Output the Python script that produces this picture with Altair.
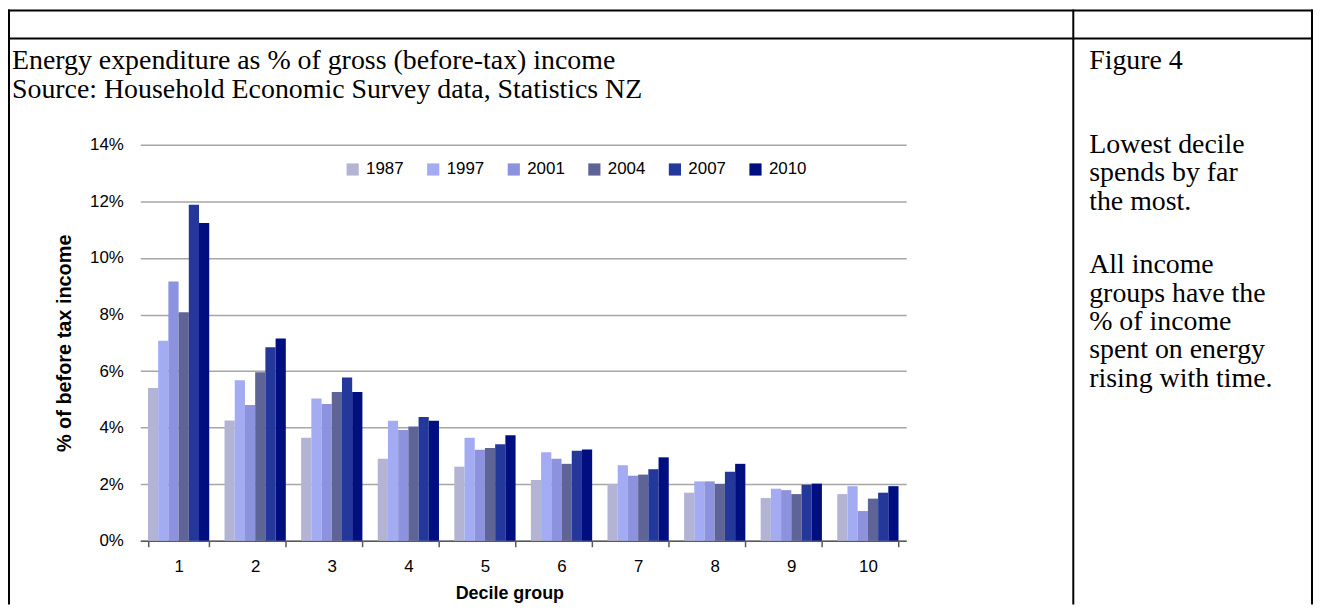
import altair as alt
import pandas as pd

# ---- data (percent of before-tax income) ----
deciles = ["1", "2", "3", "4", "5", "6", "7", "8", "9", "10"]
years = ["1987", "1997", "2001", "2004", "2007", "2010"]
v1987 = [5.40, 4.25, 3.64, 2.90, 2.62, 2.15, 2.01, 1.70, 1.51, 1.65]
v1997 = [7.07, 5.68, 5.03, 4.24, 3.64, 3.13, 2.67, 2.10, 1.84, 1.93]
v2001 = [9.17, 4.80, 4.84, 3.92, 3.22, 2.90, 2.30, 2.10, 1.79, 1.05]
v2004 = [8.08, 5.96, 5.26, 4.04, 3.28, 2.72, 2.34, 2.01, 1.65, 1.49]
v2007 = [11.88, 6.84, 5.77, 4.38, 3.41, 3.18, 2.53, 2.44, 1.98, 1.70]
v2010 = [11.24, 7.15, 5.26, 4.24, 3.73, 3.23, 2.95, 2.72, 2.02, 1.93]
y_ticks = [0, 2, 4, 6, 8, 10, 12, 14]
year_colors = ["#b3b4d4", "#a3abf3", "#8c92de", "#5f6496", "#23389a", "#000f80"]

title_lines = ["Energy expenditure as % of gross (before-tax) income",
               "Source: Household Economic Survey data, Statistics NZ"]
note_head = "Figure 4"
note_1 = ["Lowest decile", "spends by far", "the most."]
note_2 = ["All income", "groups have the", "% of income", "spent on energy", "rising with time."]

series = [v1987, v1997, v2001, v2004, v2007, v2010]
rows = []
for yr, vals in zip(years, series):
    for d, v in zip(deciles, vals):
        rows.append({"Decile": d, "Year": yr, "Value": v})
df = pd.DataFrame(rows)

SANS = "Liberation Sans"
SERIF = "Liberation Serif"

bars = alt.Chart(df).mark_bar().encode(
    x=alt.X(
        "Decile:N", sort=deciles,
        scale=alt.Scale(paddingInner=0.2, paddingOuter=0.1),
        axis=alt.Axis(
            title="Decile group", labelAngle=0, labelFont=SANS, labelFontSize=17,
            labelColor="#000000", labelPadding=12, tickSize=6, tickColor="#595959",
            tickWidth=1.5, domainColor="#595959", domainWidth=1.5, tickBand="extent",
            grid=False, titleFont=SANS, titleFontSize=18, titleFontWeight="bold",
            titleColor="#000000", titleX=371, titleY=53, titleBaseline="middle",
        ),
    ),
    xOffset=alt.XOffset("Year:N", sort=years,
                        scale=alt.Scale(paddingInner=0, paddingOuter=0)),
    y=alt.Y(
        "Value:Q",
        scale=alt.Scale(domain=[0, 14], nice=False),
        axis=alt.Axis(
            values=y_ticks, labelExpr="datum.value + '%'", domain=False, ticks=False,
            labelPadding=17, labelFont=SANS, labelFontSize=17, labelColor="#000000",
            grid=True, gridColor="#a6a6a6", gridWidth=1.5,
            title="% of before tax income", titleFont=SANS, titleFontSize=20,
            titleFontWeight="bold", titleColor="#000000", titleX=-76, titleY=199,
            titleAngle=270, titleAlign="center", titleBaseline="middle",
        ),
    ),
    color=alt.Color(
        "Year:N", sort=years,
        scale=alt.Scale(domain=years, range=year_colors),
        legend=alt.Legend(
            title=None, orient="none", direction="horizontal", legendX=205, legendY=16,
            labelFont=SANS, labelFontSize=17, labelColor="#000000", symbolType="square",
            symbolSize=150, symbolStrokeWidth=0, columnPadding=21, labelOffset=5,
            padding=0,
        ),
    ),
)

one = pd.DataFrame({"k": [0]})
base = alt.Chart(one)


def rule(x1, x2, y1, y2, w=2):
    return base.mark_rule(color="black", strokeWidth=w).encode(
        x=alt.value(x1), x2=alt.value(x2), y=alt.value(y1), y2=alt.value(y2))


def txt(lines, x, y):
    return base.mark_text(
        text=lines, align="left", baseline="alphabetic", font=SERIF,
        fontSize=28, lineHeight=28.5, color="black",
    ).encode(x=alt.value(x), y=alt.value(y))


table = [
    rule(-133, 1180, -135, -135),   # top border
    rule(-133, 1180, -107, -107),   # header row line
    rule(-132, -132, -136, 462),    # left border
    rule(938, 938, -136, 462),      # column divider
    rule(1178, 1178, -136, 462),    # right border
]
texts = [
    txt(title_lines, -129, -76),
    txt(note_head, 954, -76),
    txt(note_1, 954, 8),
    txt(note_2, 954, 129),
]

chart = alt.layer(bars, *table, *texts).properties(
    width=770, height=398,
    autosize=alt.AutoSizeParams(type="none"),
    padding={"left": 133, "top": 136, "right": 409, "bottom": 64},
    background="white",
).configure_view(stroke=None)

chart.save("out.html", embed_options={"renderer": "svg", "actions": False})
